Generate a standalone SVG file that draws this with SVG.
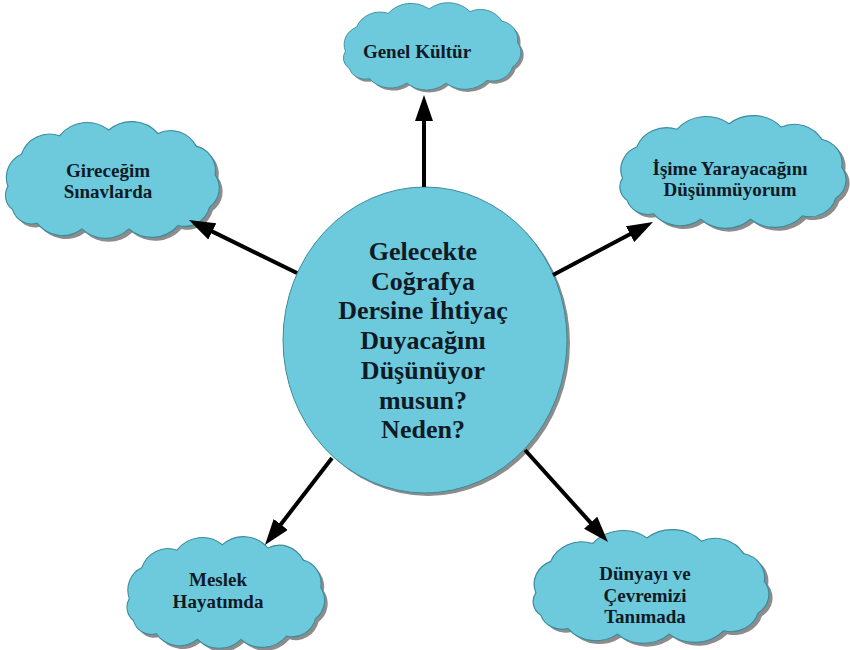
<svg xmlns="http://www.w3.org/2000/svg" xmlns:xlink="http://www.w3.org/1999/xlink" width="850" height="650" viewBox="0 0 850 650">
  <style>
    .lbl { font-family: "Liberation Serif", "DejaVu Serif", serif; font-weight: bold; fill: #101a26; text-anchor: middle; }
    .small { font-size: 19px; }
    .big { font-size: 26px; }
    .conn { stroke: #000; stroke-width: 4; fill: none; marker-end: url(#arrow); }
  </style>
  <defs>
    <marker id="arrow" markerUnits="userSpaceOnUse" markerWidth="26" markerHeight="18" refX="2" refY="9" orient="auto">
      <path d="M0,0 L26,9 L0,18 Z" fill="#000"/>
    </marker>
    <path id="cloudShape" d="M8,56 A22,22 0 0 1 20,28 A27,27 0 0 1 54,12 A32,32 0 0 1 98,7 A32,32 0 0 1 142,10 A26,26 0 0 1 176,21 A22,22 0 0 1 193,46 A20,20 0 0 1 188,74 A23,23 0 0 1 160,90 A32,32 0 0 1 116,93 A31,31 0 0 1 74,93 A29,29 0 0 1 34,88 A18,18 0 0 1 12,76 A15,15 0 0 1 8,56 Z"/>
    <symbol id="cloud" viewBox="0 0 200 100" preserveAspectRatio="none" overflow="visible">
      <use xlink:href="#cloudShape" transform="translate(3,3)" fill="#8c8c8c"/>
      <use xlink:href="#cloudShape" fill="#6dcadc" stroke="#3b8b9b" stroke-width="1" vector-effect="non-scaling-stroke"/>
    </symbol>
  </defs>
  <rect width="850" height="650" fill="#ffffff"/>

  <g id="node-center">
    <ellipse cx="428" cy="343" rx="142" ry="153" fill="#8c8c8c"/>
    <ellipse cx="425" cy="340" rx="142" ry="153" fill="#6dcadc" stroke="#3b8b9b" stroke-width="1"/>
    <text class="lbl big" x="423" y="260">Gelecekte</text>
    <text class="lbl big" x="423" y="289.7">Coğrafya</text>
    <text class="lbl big" x="423" y="319.4">Dersine İhtiyaç</text>
    <text class="lbl big" x="423" y="349.1">Duyacağını</text>
    <text class="lbl big" x="423" y="378.8">Düşünüyor</text>
    <text class="lbl big" x="423" y="408.5">musun?</text>
    <text class="lbl big" x="423" y="438.2">Neden?</text>
  </g>

  <g id="node-genel">
    <use xlink:href="#cloud" x="338" y="3" width="186" height="86"/>
    <text class="lbl small" x="417" y="58">Genel Kültür</text>
  </g>

  <g id="node-gireceqim">
    <use xlink:href="#cloud" x="-1" y="122" width="224" height="115"/>
    <text class="lbl small" x="108" y="177">Gireceğim</text>
    <text class="lbl small" x="108" y="198">Sınavlarda</text>
  </g>

  <g id="node-isime">
    <use xlink:href="#cloud" x="613" y="116" width="237" height="111"/>
    <text class="lbl small" x="730" y="175">İşime Yarayacağını</text>
    <text class="lbl small" x="730" y="196">Düşünmüyorum</text>
  </g>

  <g id="node-meslek">
    <use xlink:href="#cloud" x="121" y="537" width="207" height="110"/>
    <text class="lbl small" x="218" y="586">Meslek</text>
    <text class="lbl small" x="218" y="608">Hayatımda</text>
  </g>

  <g id="node-dunyayi">
    <use xlink:href="#cloud" x="526" y="530" width="247" height="112"/>
    <text class="lbl small" x="645" y="580">Dünyayı ve</text>
    <text class="lbl small" x="645" y="602">Çevremizi</text>
    <text class="lbl small" x="645" y="623">Tanımada</text>
  </g>

  <g id="connectors">
    <line class="conn" x1="424" y1="187" x2="424" y2="119"/>
    <line class="conn" x1="297" y1="273" x2="210.5" y2="230.6"/>
    <line class="conn" x1="553" y1="275" x2="631.8" y2="233.2"/>
    <line class="conn" x1="332" y1="458" x2="279.6" y2="526"/>
    <line class="conn" x1="525" y1="450" x2="591.9" y2="524.2"/>
  </g>
</svg>
